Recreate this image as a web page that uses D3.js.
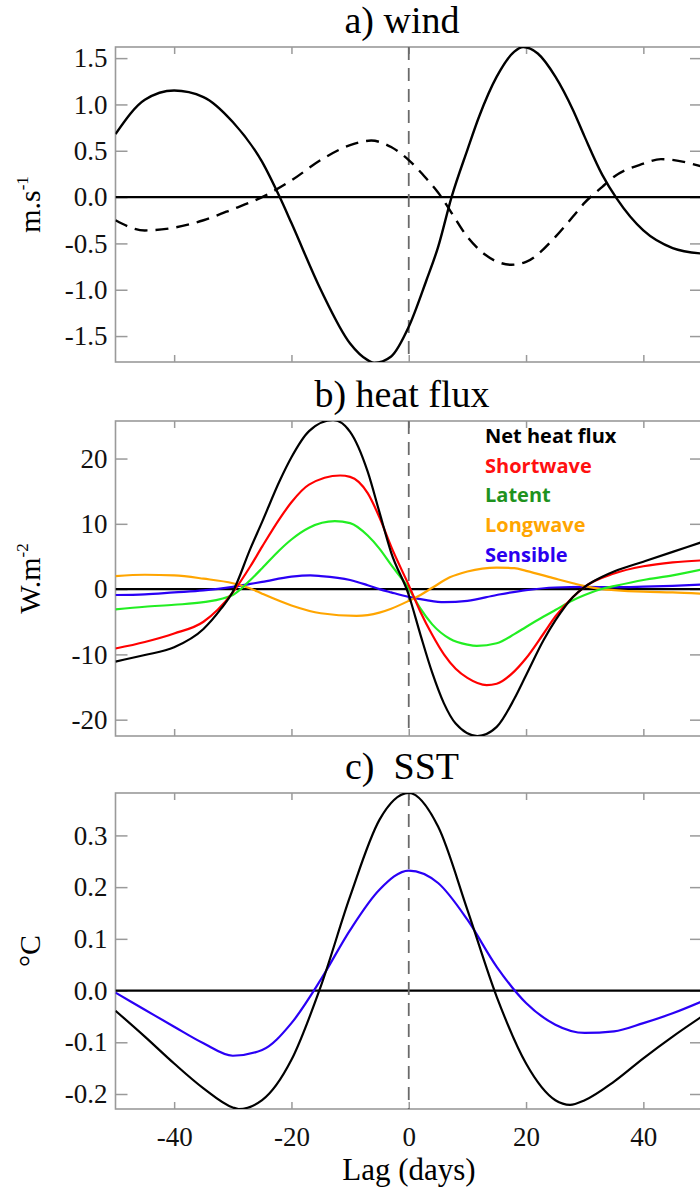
<!DOCTYPE html>
<html>
<head>
<meta charset="utf-8">
<script src="https://cdn.jsdelivr.net/npm/d3@7"></script>
<style>
  body { margin: 0; background: #fff; }
  svg { display: block; }
</style>
</head>
<body>
<script>
// lag (days) vs value
const windSolid = [[-50,0.68],[-45,1.05],[-40,1.15],[-35,1.08],[-30,0.81],[-25,0.38],[-22,0],[-20,-0.28],[-15,-1.0],[-10,-1.58],[-7,-1.76],[-5.9,-1.79],[-3,-1.72],[0,-1.40],[3,-0.9],[5,-0.54],[7.3,0],[10,0.51],[12,0.87],[15,1.30],[18,1.57],[19.5,1.62],[22,1.55],[25,1.30],[28,0.94],[30,0.65],[33,0.24],[35.5,-0.02],[40,-0.36],[45,-0.55],[50,-0.61]];
const windDashed = [[-50,-0.25],[-45,-0.36],[-40,-0.33],[-35,-0.25],[-30,-0.13],[-25,0.0],[-20,0.18],[-15,0.40],[-10,0.56],[-6.4,0.61],[-3,0.54],[0,0.40],[3,0.2],[5,0.05],[7,-0.14],[10,-0.43],[13,-0.62],[17.5,-0.73],[20,-0.70],[25,-0.43],[28,-0.21],[30,-0.06],[33,0.11],[35,0.22],[40,0.36],[43,0.41],[50,0.33]];

const netFlux = [[-50,-11.1],[-45,-10.1],[-40,-8.9],[-35,-6.1],[-32,-3.0],[-30,-0.4],[-27,6.2],[-25,10.3],[-22,16.6],[-20,20.2],[-17,24.2],[-12.9,25.9],[-10,24.1],[-7,18.0],[-5,11.8],[-3,5.6],[0,-0.9],[2,-7.0],[4,-12.8],[6,-17.5],[8,-20.6],[11.7,-22.5],[15,-21.1],[18,-16.8],[20,-13.2],[23,-7.8],[25,-4.8],[28,-1.2],[30,0.35],[33,1.9],[35,2.7],[40,4.2],[45,5.7],[50,7.2]];
const shortwave = [[-50,-9.1],[-45,-8.1],[-40,-6.8],[-35,-5.0],[-30,-0.5],[-27,3.5],[-25,6.5],[-22,10.8],[-20,13.3],[-17,16.0],[-11.7,17.4],[-10,17.2],[-7,14.7],[-5,11.0],[-3,6.5],[0,0.6],[2,-3.5],[4,-7.0],[6,-10.0],[8,-12.2],[10,-13.6],[13.3,-14.7],[15,-14.5],[18,-12.6],[20,-10.6],[23,-6.8],[25,-4.2],[28,-1.2],[30,0.35],[35,2.4],[40,3.5],[45,4.1],[50,4.4]];
const latent = [[-50,-3.1],[-45,-2.7],[-40,-2.4],[-35,-2.0],[-30,-0.9],[-27,1.4],[-25,3.2],[-22,6.0],[-20,7.6],[-17,9.4],[-12.6,10.4],[-10,10.1],[-7,8.2],[-5,6.2],[-3,3.7],[0,0.1],[2,-3.0],[4,-5.4],[7,-7.6],[10,-8.5],[11.6,-8.7],[15,-8.3],[18,-6.9],[20,-5.8],[23,-4.2],[25,-3.2],[28,-1.7],[30,-0.9],[33,0.05],[35,0.46],[40,1.4],[45,2.1],[50,3.0]];
const longwave = [[-50,2.0],[-45,2.2],[-40,2.1],[-35,1.6],[-30,0.9],[-27,0.1],[-25,-0.7],[-20,-2.5],[-15,-3.7],[-8.9,-4.1],[-5,-3.6],[-3,-3.0],[0,-1.8],[2,-0.9],[4,0.2],[7,1.8],[10,2.7],[15,3.3],[18,3.2],[20,2.8],[25,1.6],[28,0.9],[30,0.46],[33,0.0],[35,-0.15],[40,-0.4],[45,-0.5],[50,-0.7]];
const sensible = [[-50,-0.9],[-45,-0.8],[-40,-0.5],[-35,-0.2],[-30,0.35],[-27,0.8],[-25,1.1],[-20,1.9],[-16.8,2.1],[-15,2.0],[-10,1.4],[-7,0.6],[-5,0.0],[-3,-0.5],[0,-1.2],[3,-1.7],[6,-2.0],[10,-1.8],[15,-0.9],[20,-0.15],[25,0.25],[30,0.33],[35,0.3],[40,0.38],[45,0.5],[50,0.7]];

const sstBlack = [[-50,-0.039],[-45,-0.089],[-40,-0.141],[-35,-0.189],[-30,-0.226],[-29,-0.229],[-25,-0.212],[-20,-0.134],[-15,0.008],[-10,0.182],[-5,0.33],[0,0.382],[5,0.317],[10,0.156],[15,-0.012],[20,-0.141],[25,-0.212],[27.5,-0.221],[30,-0.212],[35,-0.176],[40,-0.131],[45,-0.089],[50,-0.05]];
const sstBlue = [[-50,-0.004],[-45,-0.037],[-40,-0.07],[-35,-0.102],[-30,-0.126],[-25,-0.115],[-20,-0.063],[-15,0.021],[-10,0.117],[-5,0.195],[0,0.232],[5,0.208],[10,0.137],[15,0.046],[20,-0.024],[25,-0.066],[30,-0.082],[35,-0.079],[40,-0.063],[45,-0.044],[50,-0.021]];

const xTicks = [-40, -20, 0, 20, 40];
const windTicks = [-1.5, -1.0, -0.5, 0.0, 0.5, 1.0, 1.5];
const fluxTicks = [-20, -10, 0, 10, 20];
const sstTicks = [-0.2, -0.1, 0.0, 0.1, 0.2, 0.3];

const legendNames = ["Net heat flux", "Shortwave", "Latent", "Longwave", "Sensible"];
const legendColors = ["#000000", "#ff1010", "#1e921e", "#ffa500", "#2a00f0"];
const fluxColors = ["#000000", "#ff0000", "#22ee22", "#ffa500", "#2a00f5"];

const W = 700, H = 1191;
const svg = d3.select("body").append("svg").attr("width", W).attr("height", H);

const x = d3.scaleLinear().domain([-50, 50]).range([115.5, 702]);
const serif = "'Liberation Serif', 'Times New Roman', serif";
const hyphen = f => d => f(d).replace("\u2212", "-");

const panels = [
  { title: "a) wind", top: 47, bottom: 362, domain: [-1.78, 1.62], ticks: windTicks, fmt: d3.format(".1f"), label: ["m.s", "-1"], showX: false },
  { title: "b) heat flux", top: 421, bottom: 736, domain: [-22.5, 25.75], ticks: fluxTicks, fmt: d3.format("d"), label: ["W.m", "-2"], showX: false },
  { title: "c)  SST", top: 793, bottom: 1109, domain: [-0.229, 0.382], ticks: sstTicks, fmt: d3.format(".1f"), label: ["°C", ""], showX: true }
];

panels.forEach((p, i) => {
  const y = d3.scaleLinear().domain(p.domain).range([p.bottom, p.top]);
  p.y = y;
  const g = svg.append("g");

  g.append("clipPath").attr("id", "clip" + i)
    .append("rect").attr("x", x(-50)).attr("y", p.top).attr("width", x(50) - x(-50)).attr("height", p.bottom - p.top);

  // title
  g.append("text").attr("x", 402).attr("y", p.top - 14)
    .attr("text-anchor", "middle").style("font-family", serif).style("font-size", "38px")
    .style("white-space", "pre").attr("xml:space", "preserve")
    .text(p.title);

  // frame
  g.append("rect").attr("x", x(-50)).attr("y", p.top)
    .attr("width", x(50) - x(-50)).attr("height", p.bottom - p.top)
    .attr("fill", "none").attr("stroke", "#9a9a9a").attr("stroke-width", 1.6);

  // axes with inward ticks
  const left = g.append("g").attr("transform", `translate(${x(-50)},0)`)
    .call(d3.axisLeft(y).tickValues(p.ticks).tickFormat(hyphen(p.fmt)).tickSizeInner(-12).tickSizeOuter(0).tickPadding(8));
  const right = g.append("g").attr("transform", `translate(${x(50)},0)`)
    .call(d3.axisRight(y).tickValues(p.ticks).tickFormat("").tickSizeInner(-12).tickSizeOuter(0));
  const bottom = g.append("g").attr("transform", `translate(0,${p.bottom})`)
    .call(d3.axisBottom(x).tickValues(xTicks).tickFormat(hyphen(d3.format("d"))).tickSizeInner(-7).tickSizeOuter(0).tickPadding(18));
  const topAx = g.append("g").attr("transform", `translate(0,${p.top})`)
    .call(d3.axisTop(x).tickValues(xTicks).tickFormat("").tickSizeInner(-7).tickSizeOuter(0));
  [left, right, bottom, topAx].forEach(a => {
    a.select(".domain").remove();
    a.selectAll(".tick line").attr("stroke", "#9a9a9a").attr("stroke-width", 1.5);
    a.selectAll(".tick text").style("font-family", serif).style("font-size", "27px").attr("fill", "#111");
  });
  if (!p.showX) bottom.selectAll(".tick text").remove();

  // y label
  const lab = g.append("text")
    .attr("transform", `translate(40,${(p.top + p.bottom) / 2}) rotate(-90)`)
    .attr("text-anchor", "middle").style("font-family", serif).style("font-size", "30px");
  lab.append("tspan").text(p.label[0]);
  if (p.label[1]) lab.append("tspan").attr("dy", -12).style("font-size", "17px").text(p.label[1]);

  const plot = g.append("g").attr("clip-path", `url(#clip${i})`);

  // zero line and lag-0 line
  plot.append("line").attr("x1", x(-50)).attr("x2", x(50)).attr("y1", y(0)).attr("y2", y(0))
    .attr("stroke", "#000").attr("stroke-width", 2.2);
  plot.append("line").attr("x1", x(0)).attr("x2", x(0)).attr("y1", p.top).attr("y2", p.bottom)
    .attr("stroke", "#6a6a6a").attr("stroke-width", 1.8).attr("stroke-dasharray", "13,8");
  p.plot = plot;
});

const line = yScale => d3.line().x(d => x(d[0])).y(d => yScale(d[1])).curve(d3.curveMonotoneX);

function drawSeries(p, data, color, width, dash) {
  p.plot.append("path").datum(data).attr("d", line(p.y))
    .attr("fill", "none").attr("stroke", color).attr("stroke-width", width)
    .attr("stroke-dasharray", dash || null);
}

// a) wind
drawSeries(panels[0], windDashed, "#000", 2.4, "13,8");
drawSeries(panels[0], windSolid, "#000", 2.4);

// b) heat flux
[sensible, longwave, latent, shortwave, netFlux].forEach((s, k) => {
  drawSeries(panels[1], s, fluxColors[4 - k], 2.2);
});

const legend = svg.append("g");
legendNames.forEach((n, k) => {
  legend.append("text").attr("x", 485).attr("y", 443 + k * 29.7)
    .style("font-family", "'Open Sans', sans-serif").style("font-weight", "bold").style("font-size", "20px")
    .attr("fill", legendColors[k]).text(n);
});

// c) SST
drawSeries(panels[2], sstBlue, "#2a00f5", 2.2);
drawSeries(panels[2], sstBlack, "#000", 2.2);

svg.append("text").attr("x", 409).attr("y", 1180).attr("text-anchor", "middle")
  .style("font-family", serif).style("font-size", "31px").text("Lag (days)");
</script>
</body>
</html>
